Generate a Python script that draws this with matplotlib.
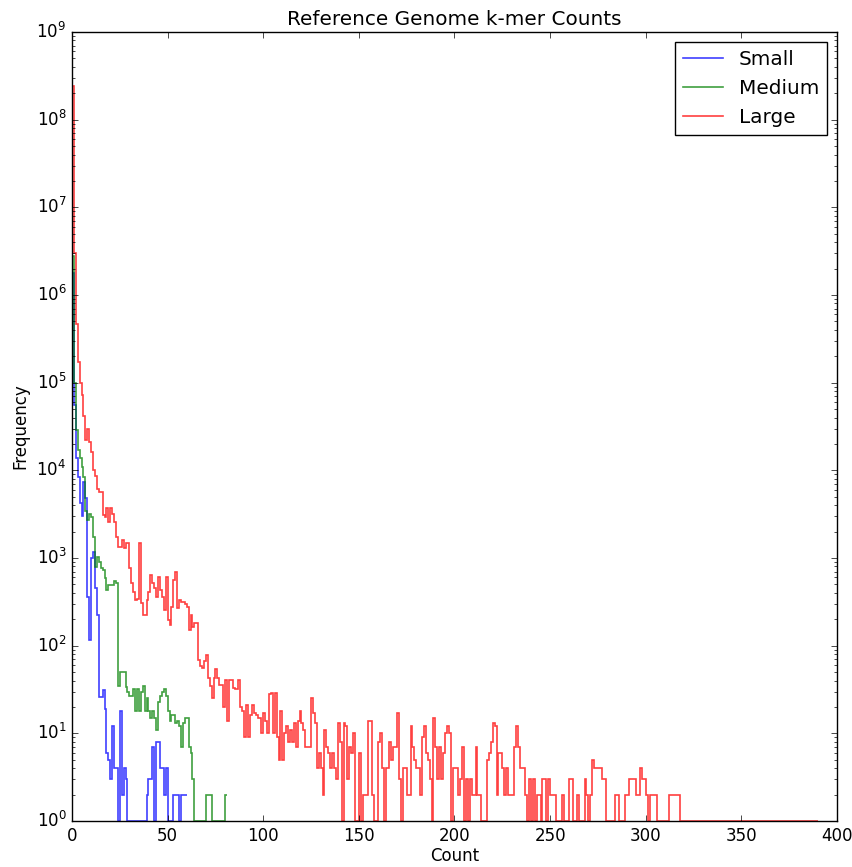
import numpy as np
import matplotlib
matplotlib.use("Agg")
import matplotlib.pyplot as plt

# k-mer count histograms, one value per integer count bin
small_counts = [
    1.8e6, 5.5e4, 1.4e4, 8400, 4200, 3000, 7400, 4800, 360, 116,
    990, 1180, 450, 223, 26, 26, 31, 19, 6, 5,
    3, 12, 4, 4, 1, 18, 2, 4, 3, 1,
    1, 1, 1, 1, 1, 1, 1, 1, 1, 2,
    3, 3, 7, 1, 8, 8, 4, 4, 2, 4,
    1, 1, 1, 2, 2, 2, 1, 2, 2, 2,
]

medium_counts = [
    2.8e6, 9.8e4, 2.9e4, 1.7e4, 1.37e4, 1.1e4, 8400, 3400, 2700, 3200,
    2900, 1750, 795, 1030, 910, 760, 725, 585, 430, 490,
    490, 490, 540, 515, 35, 50, 50, 50, 34, 30,
    27, 27, 32, 18, 32, 18, 30, 35, 18, 25,
    18, 15, 18, 15, 11, 23, 27, 30, 32, 27,
    18, 14, 16, 16, 13, 14, 12, 7, 13, 15,
    15, 7, 6, 3, 1, 1, 1, 1, 1, 1,
    2, 2, 2, 1, 1, 1, 1, 1, 1, 1,
    2,
]

large_counts = [
    2.4e8, 3.0e6, 4.7e5, 1.73e5, 9.8e4, 7.2e4, 4.2e4, 2.2e4, 3.0e4, 2.1e4,
    1.6e4, 1.02e4, 8600, 6200, 5700, 5700, 3100, 2950, 3700, 2600,
    3700, 3200, 2600, 1750, 1350, 1350, 1600, 1300, 1500, 1500,
    760, 515, 410, 330, 345, 1500, 303, 224, 224, 330,
    410, 640, 515, 450, 360, 610, 430, 360, 255, 610,
    196, 171, 277, 560, 695, 267, 330, 319, 319, 296,
    277, 150, 224, 165, 179, 179, 69, 58, 56, 66,
    79, 43, 35, 25, 43, 54, 43, 36, 36, 20,
    41, 14, 41, 41, 33, 32, 32, 41, 20, 18,
    9, 21, 9, 16, 21, 17, 16, 15, 15, 10,
    17, 14, 10, 28, 29, 10, 29, 9, 5, 18,
    5, 10, 12, 8, 11, 8, 13, 7, 14, 18,
    13, 11, 7, 7, 7, 25, 17, 13, 4, 6,
    4, 2, 11, 7, 6, 4, 6, 4, 3, 13,
    8, 1, 13, 12, 3, 7, 6, 10, 1, 1,
    6, 1, 2, 2, 2, 14, 14, 2, 1, 1,
    8, 10, 4, 1, 4, 4, 8, 5, 7, 7,
    17, 3, 1, 4, 4, 2, 2, 12, 7, 5,
    4, 4, 2, 9, 12, 6, 5, 3, 1, 15,
    7, 3, 7, 3, 6, 10, 12, 10, 1, 4,
    4, 4, 2, 3, 7, 1, 3, 1, 3, 2,
    2, 7, 2, 2, 1, 1, 1, 5, 6, 8,
    13, 12, 2, 6, 6, 4, 2, 4, 2, 2,
    2, 7, 12, 7, 4, 4, 4, 2, 1, 3,
    1, 3, 1, 2, 2, 1, 3, 3, 1, 3,
    2, 2, 2, 1, 1, 1, 2, 1, 1, 1,
    3, 3, 1, 1, 2, 1, 1, 1, 3, 2,
    1, 2, 5, 4, 4, 4, 4, 3, 3, 1,
    1, 1, 1, 1, 2, 2, 1, 1, 1, 2,
    2, 3, 3, 3, 3, 2, 2, 4, 3, 3,
    2, 1, 2, 2, 2, 2, 1, 1, 1, 1,
    1, 1, 2, 2, 2, 2, 2, 2, 1, 1,
    1, 1, 1, 1, 1, 1, 1, 1, 1, 1,
    1, 1, 1, 1, 1, 1, 1, 1, 1, 1,
    1, 1, 1, 1, 1, 1, 1, 1, 1, 1,
    1, 1, 1, 1, 1, 1, 1, 1, 1, 1,
    1, 1, 1, 1, 1, 1, 1, 1, 1, 1,
    1, 1, 1, 1, 1, 1, 1, 1, 1, 1,
    1, 1, 1, 1, 1, 1, 1, 1, 1, 1,
]

series_names = ["Small", "Medium", "Large"]
series_colors = ["b", "g", "r"]

plt.style.use("classic")

fig = plt.figure(figsize=(8.53, 8.67), dpi=100, facecolor="white")
ax = fig.add_axes([72 / 853, 1 - 821 / 867, (837 - 72) / 853, (821 - 32) / 867])

for counts, name, color in zip([small_counts, medium_counts, large_counts],
                               series_names, series_colors):
    edges = np.arange(len(counts) + 1)
    ax.stairs(counts, edges, color=color, label=name, baseline=None,
              alpha=0.75, linewidth=1.2)

ax.set_yscale("log")
ax.set_xlim(0, 400)
ax.set_ylim(1, 1e9)
ax.set_title("Reference Genome k-mer Counts")
ax.set_xlabel("Count", labelpad=2)
ax.set_ylabel("Frequency")
ax.legend(loc="upper right")

fig.savefig("out.png", facecolor="white")
plt.close()
